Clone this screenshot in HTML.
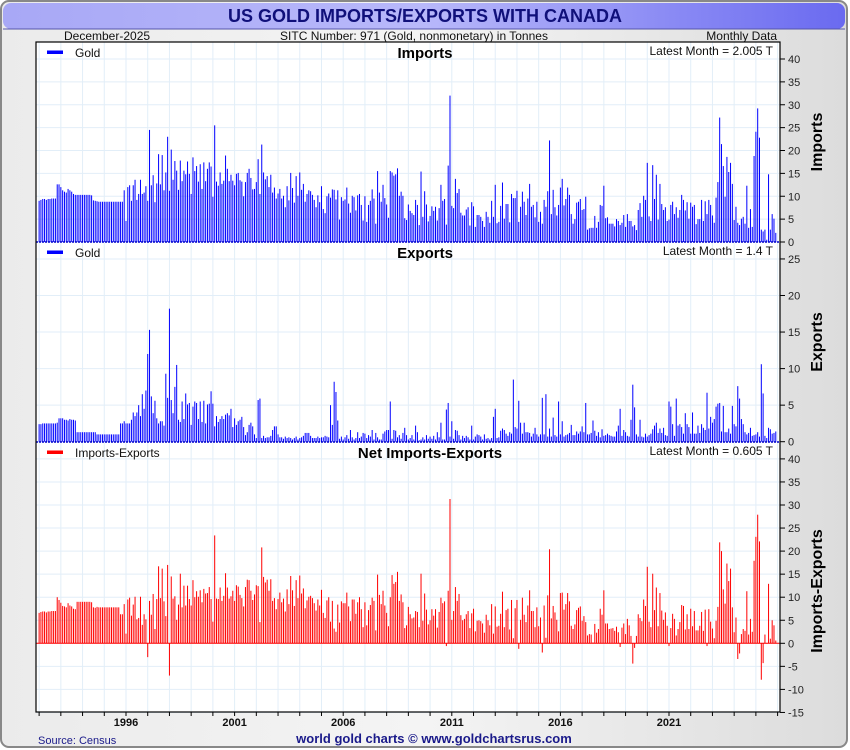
<!DOCTYPE html>
<html><head><meta charset="utf-8"><style>
body{margin:0;background:#fff;font-family:"Liberation Sans",sans-serif}
#wrap{position:relative;width:850px;height:750px;overflow:hidden}
</style></head><body>
<div id="wrap">
<svg id="svg" width="850" height="750" xmlns="http://www.w3.org/2000/svg">
<defs>
<linearGradient id="tg" x1="0" x2="1" y1="0" y2="0"><stop offset="0" stop-color="#a8a8f6"/><stop offset="0.5" stop-color="#b8b8fa"/><stop offset="1" stop-color="#6a6af0"/></linearGradient>
<linearGradient id="bg" x1="0" x2="1"><stop offset="0" stop-color="#ebebeb"/><stop offset="0.5" stop-color="#f4f4f4"/><stop offset="1" stop-color="#dcdcdc"/></linearGradient>
</defs>
<rect x="1" y="1" width="846" height="746" rx="8" fill="url(#bg)" stroke="#888" stroke-width="2"/>
<rect x="3" y="3" width="842" height="26" rx="8" fill="url(#tg)"/>
<line x1="3" y1="29" x2="845" y2="29" stroke="#5555aa" stroke-width="1"/>
<text x="425" y="22" text-anchor="middle" font-size="18" font-weight="bold" fill="#10107a">US GOLD IMPORTS/EXPORTS WITH CANADA</text>
<text x="64" y="40" font-size="12" fill="#111">December-2025</text>
<text x="414" y="40" text-anchor="middle" font-size="12" fill="#111">SITC Number: 971 (Gold, nonmonetary) in Tonnes</text>
<text x="777" y="40" text-anchor="end" font-size="12" fill="#111">Monthly Data</text>
<rect x="36" y="42" width="744" height="670" fill="#fff"/>
<g id="grid"></g><g id="bars"></g><g id="axes"></g>
<text x="38" y="744" font-size="11" fill="#1a1a8a">Source: Census</text>
<text x="434" y="743" text-anchor="middle" font-size="13" font-weight="bold" fill="#1a1a8a">world gold charts © www.goldchartsrus.com</text>
</svg>
</div>
<script>
const years=["1996","2001","2006","2011","2016","2021"];
const importsT=[
9,9.2,9.4,9.4,9.2,9.4,9.4,9.5,9.5,9.5,12.6,12.6,
12,11.3,11,10.8,11.6,11.3,11,10.5,10.3,10.3,10.3,10.3,
10.3,10.3,10.3,10.3,10.3,10.2,9.1,9,8.9,8.8,8.8,8.8,
8.8,8.8,8.8,8.8,8.8,8.8,8.8,8.8,8.8,8.8,8.8,11.3,
4.6,12,12.4,9,12.4,13.6,9.2,10.5,13.6,10.5,10.8,12.2,
9,24.5,12.4,14.6,8.7,12.8,19.2,12.6,19,11.3,15.2,23,
11.2,20.2,13.6,17.7,15.6,11.4,17.8,13.3,15.6,14.8,17.6,14.9,
10.5,18.5,15.5,16.6,13.2,17,11.6,17.4,13.3,16,17.4,16.5,
9.9,25.5,13.2,12.3,15.2,12.7,13.4,18.9,16,13.3,14.7,13.4,
12.4,14.9,15.1,13.5,13.2,10,13.1,15.1,16,14,11.5,11.6,
13.1,18.1,10.5,21.3,15.2,13.7,14.4,12,14.7,10.8,11.9,9.5,
10.6,11.6,9.5,10.1,7.6,12.2,9.1,15.1,11.8,8.6,14.4,10.1,
15.2,11.4,12.7,8.8,10.5,11.3,11.1,10.3,9.2,7.6,10.2,8.7,
12.2,7.2,6.3,10,10.6,9.7,11.5,11.4,9.3,11.3,4.9,9.8,
9,9.3,11.9,8.4,6.4,10.1,9.8,6.9,10.2,10.5,8.1,4.7,
10,4.4,8.1,9,11.5,9.5,4,15.5,10.8,8.8,12.5,9.6,
8.2,5.3,15.5,15.2,14.5,14.8,16.1,10.1,11,10.1,5.2,4.8,
8.2,6.8,6.3,5.9,9.2,8.1,3.7,15.4,5.5,11.1,8.2,4.5,
5.7,7.8,6.8,7.7,4.7,7.4,12.5,9,9.4,3.8,16.7,32,
7.9,7.4,13.8,10.7,11.6,6.4,5.8,5.8,7.1,7.6,3.6,8.7,
7.8,3.3,5.9,5.9,5.5,4.6,3.3,6.6,5.5,4.2,9,5.5,
12.5,4.1,4.4,7.9,13,5.1,8.3,8.3,4.3,10.5,9.6,9.6,
11.2,4.4,7.7,11,8.8,5.9,9.5,12.7,7.7,8.1,5.4,8.8,
4.4,6.6,4,9.2,7.7,11.1,22.2,6.1,11.4,7.6,5.8,8.1,
11.9,13.8,8,9.4,11.9,10.3,6.1,4,5,8.6,8.8,9.4,
7,7.2,9.9,2.7,3,3.1,3.1,5.7,3.1,4.4,8.1,7.9,
12.3,5.2,5.4,4,4,4,3.4,5,4.6,3.7,4.2,5.9,
3.3,6.1,4.6,4.6,3.4,3.7,2.6,7,8.5,5.5,10.1,9.2,
17.3,5.6,4.6,16.8,9.4,14.7,4.9,12.7,8.3,7,7.6,4.6,
4.9,8.1,8.8,6.1,7.6,5.3,7,10.3,9.2,6.9,8.7,5.1,
8.6,7.7,8.1,3.9,5,5,9.2,4.6,8.9,6.1,9.2,8.1,
5.8,4.2,9.7,13.1,27.2,21.4,16.6,9.9,18.6,15.3,17.3,12.7,
4.8,7.7,4.2,3.7,5.1,5.5,4,12.3,3.1,7.2,3.3,18.8,
24.1,29.2,22.8,2.7,2.3,2.7,0.5,14.8,2.7,6.1,5.1,2.0];
const exportsT=[
2.4,2.4,2.5,2.5,2.5,2.5,2.5,2.5,2.5,2.5,2.6,3.2,
3.2,3.2,3,3,2.9,3.1,3,3,2.9,1.3,1.3,1.3,
1.3,1.3,1.3,1.3,1.3,1.3,1.3,1.3,1,1,1,1,
1,1,1,1,1,1,1,1,1,2.5,2.5,2.8,
2.5,2.5,2.5,3,4,3.5,4,5,3.5,6.5,4.5,7,
12,15.3,6.2,3.9,5.6,3.2,2.5,2.8,2.8,2.2,9.3,6,
18.2,5.7,3.9,7.5,10.5,3,2.7,5.5,3.1,6.6,5.1,5.3,
2.3,4.8,5.5,5.3,3.1,5.5,2.7,5.6,2.5,5.1,5.2,6.9,
5.2,2.1,3.5,2.7,3.1,3.5,3.1,3.7,3.9,3.6,4.5,2,
3.2,2.3,2.8,3,3.4,2,0.9,1.3,2.3,2.6,2.1,1,
0.5,5.7,5.9,0.5,0.8,0.5,0.6,0.6,0.8,1.6,2.1,2.1,
1,0.6,0.6,0.4,0.7,0.5,0.6,0.5,0.3,0.5,0.7,0.3,
0.5,0.6,0.8,1.2,1.2,1.2,0.8,0.5,0.5,0.5,0.7,0.5,
0.6,0.6,0.8,0.7,0.6,5,2.3,8.2,6.8,2.9,0.4,0.7,
0.3,0.6,0.9,0.4,1.6,0.6,0.3,0.5,1.3,0.5,0.7,1.2,
1.1,0.5,0.9,0.7,1.6,0.3,1.2,0.6,0.3,0.3,1.1,1.4,
1.6,1.6,5.5,0.4,1.6,1.5,0.6,0.9,0.4,1.2,1.9,0.9,
0.3,0.5,0.9,0.3,2.2,1.3,0.2,0.3,0.6,0.3,0.9,0.4,
0.7,0.4,0.8,0.3,1.3,0.6,2.6,0.3,0.3,4.4,5.3,0.7,
2.8,0.4,1.6,1.5,0.9,0.3,0.8,0.5,0.8,0.6,0.3,2.2,
0.3,0.7,1,0.9,0.7,0.3,1,0.4,0.5,0.3,0.5,3.4,
4.5,0.5,0.6,1.5,1.8,1.6,1.1,0.8,1.3,1.1,8.5,2,
1.8,5.6,2.6,1.1,2.6,1.3,1.3,1.2,0.7,1.1,1.9,1,
0.7,1,6,1,6.5,0.7,1.8,0.7,3.3,0.9,0.7,5.5,
1,2.8,0.7,0.9,1,1.2,2.3,0.9,0.9,1.4,1.1,1.4,
2.1,1.3,5.3,1,1,1.2,2.9,1.5,0.8,1.3,0.6,1.7,
0.8,0.9,1.1,0.9,0.8,0.7,0.7,1.4,2.2,4.5,0.8,1.6,
1.3,0.8,0.7,3,7.8,4.7,1,0.7,3,0.7,0.6,1.1,
0.7,0.9,1.1,1.7,2.2,2.6,1.2,1.8,1.2,1.9,0.9,0.8,
5.5,4.8,2.4,0.8,5.9,2.2,2.4,2,1.1,3.9,2.4,2,
1.1,4,1.1,1.1,2.2,1.2,2.4,1.9,1.6,6.7,1.8,3.4,
2.6,3.1,4.8,5.2,5.3,1.4,4.9,1.3,1.3,1.8,1.1,4.9,
2.4,2.1,7.6,5.9,3.1,2.4,1.3,1,1.2,1.9,0.8,0.9,
1,1.3,0.7,10.6,6.6,0.8,0.5,1.9,1.7,1.1,1.2,1.4];
const importTicks=[0,5,10,15,20,25,30,35,40];
const exportTicks=[0,5,10,15,20,25];
const netTicks=[-15,-10,-5,0,5,10,15,20,25,30,35,40];

const NS="http://www.w3.org/2000/svg";
function mk(tag,attrs,parent,txt){const e=document.createElementNS(NS,tag);for(const k in attrs)e.setAttribute(k,attrs[k]);if(txt!==undefined)e.textContent=txt;parent.appendChild(e);return e;}
const X0=36,X1=780;
function xMonth(i){return 126+(i-48)*1.81;}
function xYear(y){return 126+(y-1996)*21.72;}
const panels=[
 {name:'imports',top:42,bot:242,y0:242,unit:4.575,ticks:importTicks,title:'Imports',axis:'Imports',leg:'Gold',latest:'Latest Month = 2.005 T',color:'#0000ff'},
 {name:'exports',top:242,bot:442,y0:441.7,unit:7.31,ticks:exportTicks,title:'Exports',axis:'Exports',leg:'Gold',latest:'Latest Month = 1.4 T',color:'#0000ff'},
 {name:'net',top:442,bot:712,y0:643.3,unit:4.61,ticks:netTicks,title:'Net Imports-Exports',axis:'Imports-Exports',leg:'Imports-Exports',latest:'Latest Month = 0.605 T',color:'#ff0000'}];
const grid=document.getElementById('grid'),bars=document.getElementById('bars'),axes=document.getElementById('axes');
for(let y=1992;y<=2026;y++){const x=xYear(y);if(x<X0||x>X1)continue;
 const l=mk('line',{x1:x,x2:x,y1:42,y2:712,stroke:'#e2eef8','stroke-width':1},grid);
 
 
 const t=mk('line',{x1:x,x2:x,y1:712,y2:716,stroke:'#000','stroke-width':1},axes);
 
 }
years.forEach(function(y){const t=mk('text',{x:xYear(+y),y:726,'text-anchor':'middle','font-size':11,'font-weight':'bold',fill:'#111'},axes,y);
 
 });
panels.forEach(function(p,pi){
 const yv=v=>p.y0-v*p.unit;
 p.ticks.forEach(function(v){const y=yv(v);
  if(y>p.top+2){const g=mk('line',{x1:X0,x2:X1,y1:y,y2:y,stroke:'#e2eef8','stroke-width':1},grid);
   
   }
  const tk=mk('line',{x1:X1,x2:X1+5,y1:y,y2:y,stroke:'#000'},axes);
  
  
  const tl=mk('text',{x:X1+8,y:y+4,'font-size':11,fill:'#222'},axes,String(v));
  
  });
 for(let i=0;i<importsT.length;i++){
  const v=pi===0?importsT[i]:pi===1?exportsT[i]:+(importsT[i]-exportsT[i]).toFixed(3);
  const x=xMonth(i),y=yv(v),z=yv(0);
  const r=mk('rect',{x:x-0.5,y:Math.min(y,z),width:1,height:Math.max(Math.abs(z-y),0.3),fill:p.color},bars);
  
  }
 if(pi===2){const zl=mk('line',{x1:X0,x2:X1,y1:yv(0),y2:yv(0),stroke:'#ff0000','stroke-width':1},bars);
  
  }
 if(pi>0){const d=mk('line',{x1:X0,x2:X1,y1:p.top,y2:p.top,stroke:'#0000cc','stroke-width':1.5,'stroke-dasharray':'2,1'},axes);
  
  }
 const lg=mk('rect',{x:47,y:p.top+8.5,width:16,height:3.5,fill:p.color},axes);
 
 
 const lt=mk('text',{x:75,y:p.top+15,'font-size':12,fill:'#111'},axes,p.leg);
 
 
 const tt=mk('text',{x:p.name==='net'?430:425,y:p.top+16,'text-anchor':'middle','font-size':15,'font-weight':'bold',fill:'#000'},axes,p.title);
 
 
 const la=mk('text',{x:773,y:p.top+13,'text-anchor':'end','font-size':12,fill:'#111'},axes,p.latest);
 
 
 const cy=(p.name==='net')?(p.top+p.bot)/2+14:(p.top+p.bot)/2;
 const at=mk('text',{x:0,y:0,transform:'translate(822,'+cy+') rotate(-90)','text-anchor':'middle','font-size':16,'font-weight':'bold',fill:'#000'},axes,p.axis);
 
 
});
const fr=mk('rect',{x:X0,y:42,width:X1-X0,height:670,fill:'none',stroke:'#000','stroke-width':1.2},axes);


</script>
</body></html>
